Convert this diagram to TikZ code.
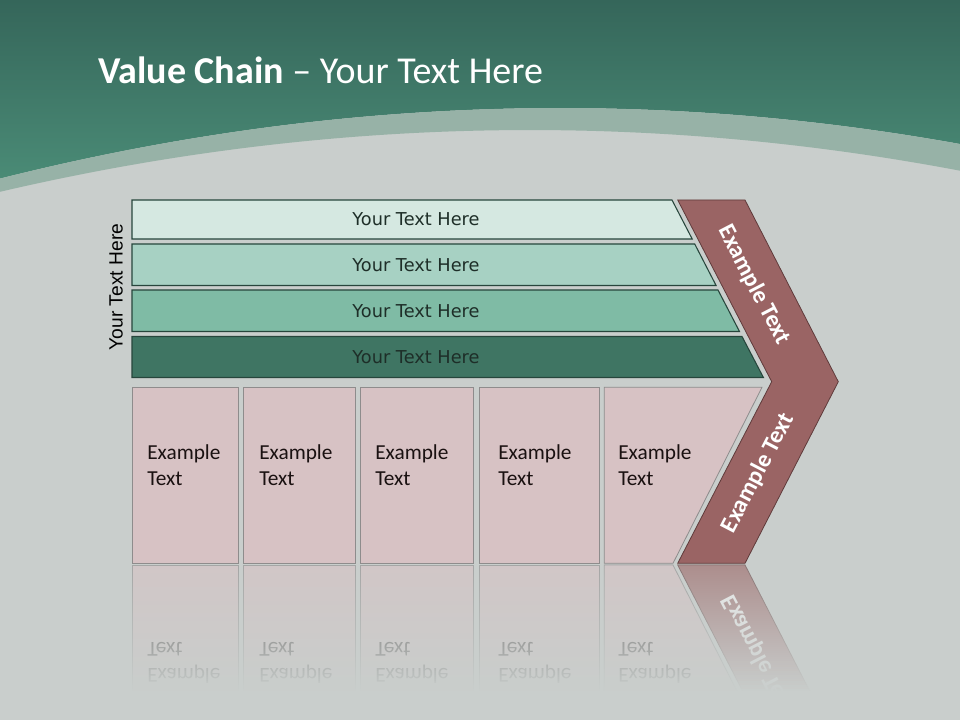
\documentclass[tikz,border=0pt]{standalone}
\usepackage{fontspec}
\setmainfont{Carlito}
\newfontfamily\barfont{DejaVu Sans}
\newfontfamily\sidefont{Liberation Sans}
\definecolor{bggray}{HTML}{C9CECC}
\definecolor{greentop}{HTML}{35665A}
\definecolor{greenbot}{HTML}{4A8B76}
\definecolor{bandcol}{HTML}{97B2A7}
\definecolor{barA}{HTML}{D5E8E1}
\definecolor{barB}{HTML}{A7D1C3}
\definecolor{barC}{HTML}{7FBBA5}
\definecolor{barD}{HTML}{3F7563}
\definecolor{barline}{HTML}{27463C}
\definecolor{bartxt}{HTML}{1E2E28}
\definecolor{chevfill}{HTML}{9A6464}
\definecolor{chevline}{HTML}{5F3B3B}
\definecolor{boxfill}{HTML}{D7C2C4}
\definecolor{boxline}{HTML}{8E8C8C}
\definecolor{boxtxt}{HTML}{1A1111}
\tikzset{
  bar/.style={draw=barline,line width=.8pt},
  bartext/.style={font=\barfont\fontsize{13.3}{15}\selectfont,text=bartxt,inner sep=0pt},
  box/.style={fill=boxfill,draw=boxline,line width=.6pt},
  boxtext/.style={font=\fontsize{16}{19.5}\selectfont,align=left,anchor=west,inner sep=0pt,text=boxtxt},
  chevtext/.style={font=\bfseries\fontsize{18}{20}\selectfont,text=white,inner sep=0pt}
}
\begin{document}
\begin{tikzpicture}[x=.75pt,y=-.75pt]
\useasboundingbox (0,0) rectangle (960,720);
\fill[bggray] (0,0) rectangle (960,720);
\shade[top color=greentop,bottom color=greenbot] (0,0) -- (960,0) -- (960,144) .. controls (640,86.4) and (320,98) .. (0,178.6) -- cycle;
\fill[bandcol] (0,178.6) .. controls (320,98) and (640,86.4) .. (960,144) -- (960,170.7) .. controls (640,110.2) and (320,117.2) .. (0,191.8) -- cycle;
\node[anchor=base west,text=white,font=\fontsize{28.5}{32}\selectfont,inner sep=0pt] (title) at (98,84) {\textbf{Value Chain} -- Your Text Here};
\node[rotate=90,font=\sidefont\fontsize{14.4}{16}\selectfont,inner sep=0pt] (side) at (116,287) {Your Text Here};
\path[bar,fill=barA] (132,200) -- (672,200) -- (692.2,239) -- (132,239) -- cycle;
\node[bartext] (bar1) at (416,219.5) {Your Text Here};
\path[bar,fill=barB] (132,244) -- (694.7,244) -- (716.1,285.5) -- (132,285.5) -- cycle;
\node[bartext] (bar2) at (416,265.5) {Your Text Here};
\path[bar,fill=barC] (132,290) -- (718,290) -- (739.5,331.5) -- (132,331.5) -- cycle;
\node[bartext] (bar3) at (416,311) {Your Text Here};
\path[bar,fill=barD] (132,336.5) -- (742,336.5) -- (763.4,377.5) -- (132,377.5) -- cycle;
\node[bartext] (bar4) at (416,357) {Your Text Here};
\path[fill=chevfill,draw=chevline,line width=.6pt] (677.7,200) -- (745,200) -- (838.3,381.7) -- (745,563.3) -- (677.7,563.3) -- (771.7,381.7) -- cycle;
\node[chevtext,rotate=-62.6] (chevup) at (754,285) {Example Text};
\node[chevtext,rotate=62.6] (chevdown) at (758,473) {Example Text};
\path[box] (132.3,387.3) rectangle (238.3,563.3);
\node[boxtext] (box1) at (147,465) {Example\\Text};
\path[box] (243.7,387.3) rectangle (355.3,563.3);
\node[boxtext] (box2) at (259,465) {Example\\Text};
\path[box] (360.7,387.3) rectangle (473.3,563.3);
\node[boxtext] (box3) at (375,465) {Example\\Text};
\path[box] (479,387.3) rectangle (599.3,563.3);
\node[boxtext] (box4) at (498,465) {Example\\Text};
\path[box] (604.3,387.3) -- (762,387.3) -- (673,563.3) -- (604.3,563.3) -- cycle;
\node[boxtext] (box5) at (618,465) {Example\\Text};
\path[box] (132.3,565) rectangle (238.3,720);
\node[boxtext,yscale=-1] (refl1) at (147,663) {Example\\Text};
\path[box] (243.7,565) rectangle (355.3,720);
\node[boxtext,yscale=-1] (refl2) at (259,663) {Example\\Text};
\path[box] (360.7,565) rectangle (473.3,720);
\node[boxtext,yscale=-1] (refl3) at (375,663) {Example\\Text};
\path[box] (479,565) rectangle (599.3,720);
\node[boxtext,yscale=-1] (refl4) at (498,663) {Example\\Text};
\path[box] (604.3,565) -- (673,565) -- (750,717) -- (604.3,717) -- cycle;
\node[boxtext,yscale=-1] (refl5) at (618,663) {Example\\Text};
\path[fill=chevfill,draw=chevline,line width=.6pt] (677.7,565) -- (745,565) -- (823,717) -- (756,717) -- cycle;
\node[chevtext,rotate=-62.6,yscale=-1] (reflchev) at (758,655) {Example Text};
\foreach \k in {0,...,63} {
  \fill[bggray,opacity={0.4+0.6*\k/63}] (126,{565+2*\k}) rectangle (850,{567+2*\k});
}
\fill[bggray] (126,693) rectangle (850,720);
\end{tikzpicture}
\end{document}
